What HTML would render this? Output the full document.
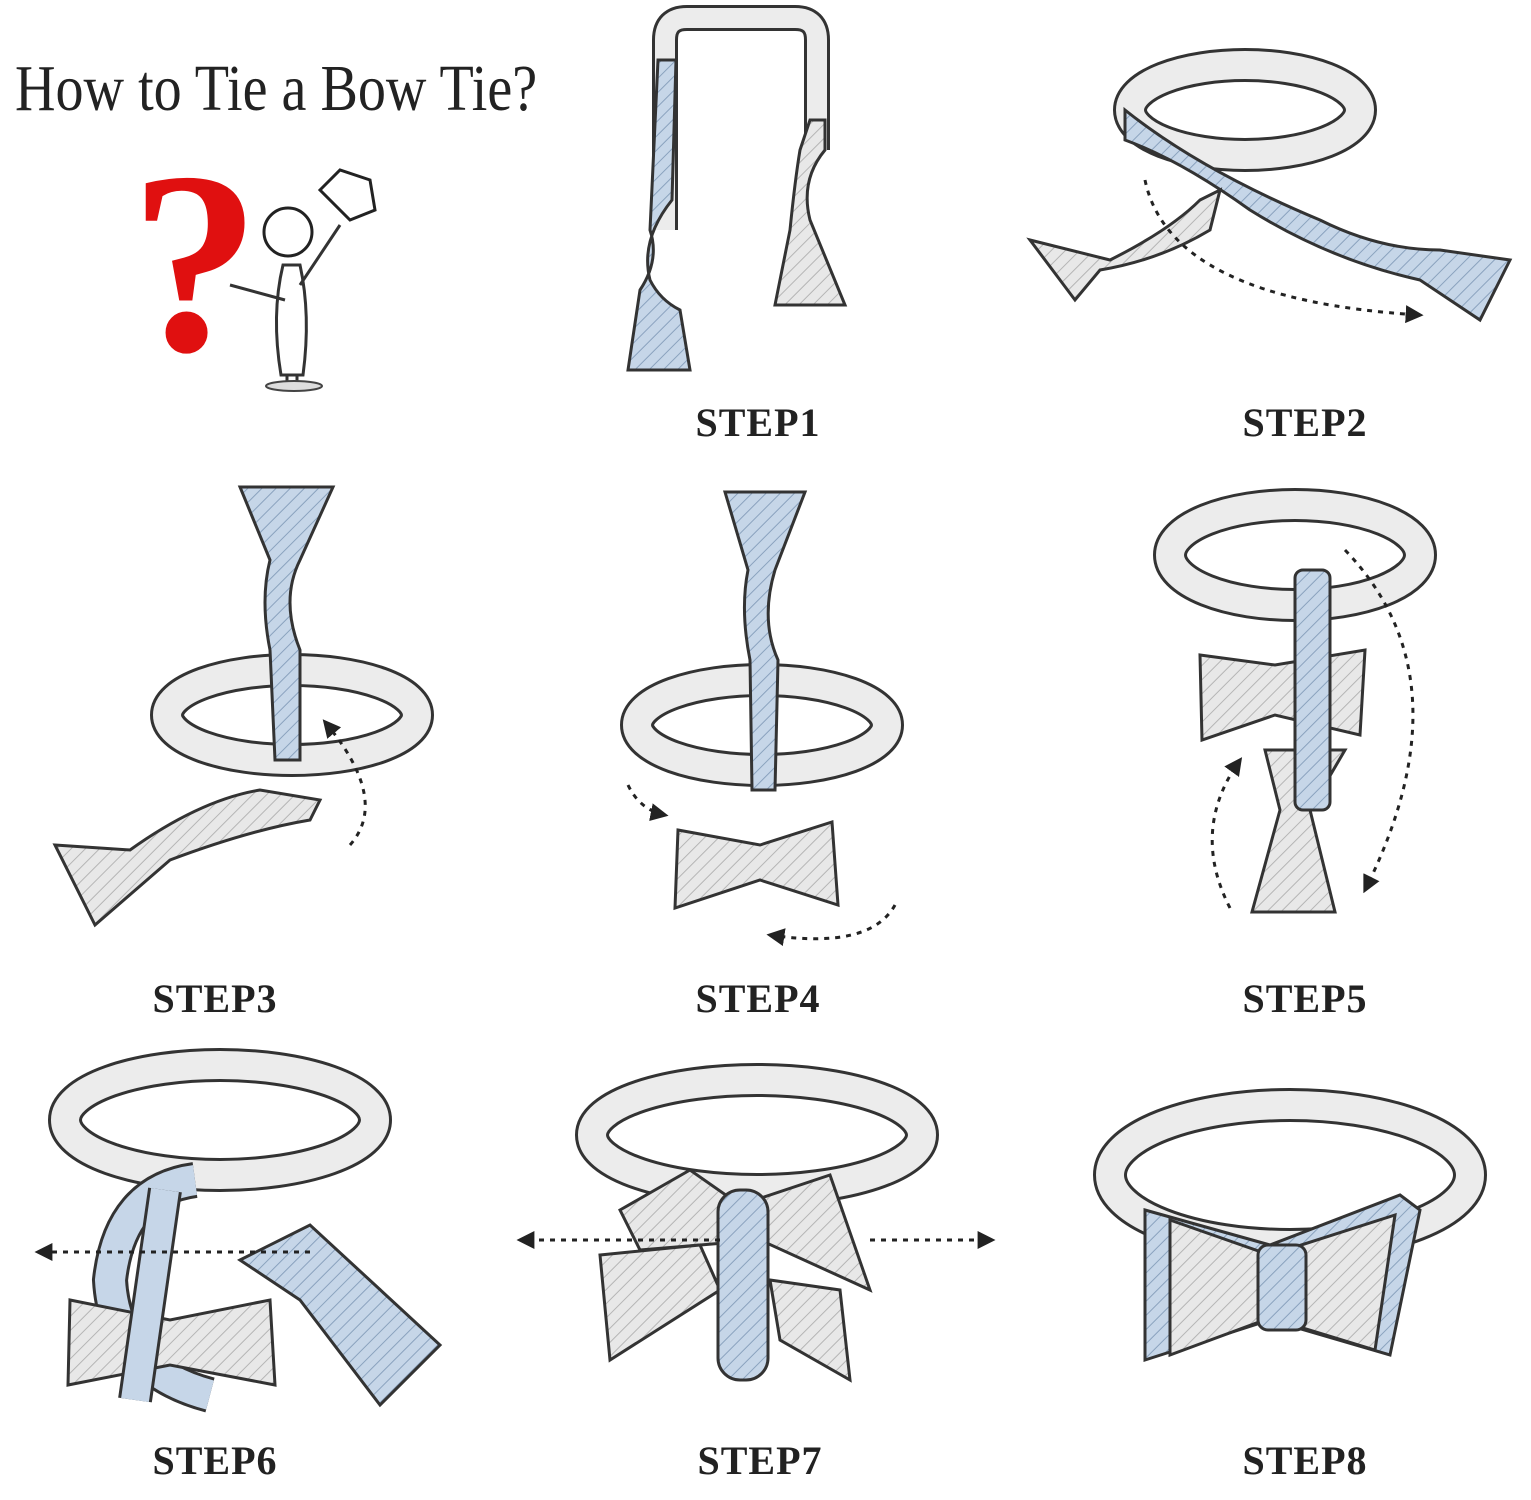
<!DOCTYPE html>
<html><head><meta charset="utf-8"><style>
html,body{margin:0;padding:0;background:#fff;width:1531px;height:1500px;overflow:hidden}
svg{display:block}
.lbl{font-family:"Liberation Serif",serif;font-weight:bold;font-size:40px;letter-spacing:1px;fill:#222;text-anchor:middle}
.s{fill:none;stroke:#333;stroke-width:3}
.band{fill:none;stroke:#333;stroke-width:34}
.bandi{fill:none;stroke:#ececec;stroke-width:28}
.bandb{fill:none;stroke:#c6d6e8;stroke-width:28}
.d{fill:none;stroke:#222;stroke-width:3;stroke-dasharray:5 6}
</style></head><body>
<svg width="1531" height="1500" viewBox="0 0 1531 1500">
<defs>
<pattern id="hb" width="10" height="10" patternUnits="userSpaceOnUse" patternTransform="rotate(45)"><rect width="10" height="10" fill="#c6d6e8"/><line x1="0" y1="0" x2="0" y2="10" stroke="#8aa2be" stroke-width="2"/></pattern>
<pattern id="hg" width="10" height="10" patternUnits="userSpaceOnUse" patternTransform="rotate(45)"><rect width="10" height="10" fill="#e8e8e8"/><line x1="0" y1="0" x2="0" y2="10" stroke="#b5b5b5" stroke-width="2"/></pattern>
<marker id="ar" viewBox="0 0 10 10" refX="8" refY="5" markerWidth="6" markerHeight="6" orient="auto"><path d="M0,0L10,5L0,10z" fill="#222"/></marker>
</defs>
<text x="15" y="110" font-family="Liberation Serif,serif" font-size="66" fill="#222" transform="translate(15 0) scale(0.85 1) translate(-15 0)">How to Tie a Bow Tie?</text>
<!-- question mark + man -->
<text x="130" y="350" font-family="Liberation Serif,serif" font-weight="bold" font-size="260" fill="#e01010">?</text>
<circle cx="288" cy="232" r="24" fill="#fff" stroke="#222" stroke-width="3"/>
<path class="s" d="M230 285 l55 15 M300 285 l40 -60"/>
<path class="s" d="M283 265 q-12 50 -2 110 h22 q8 -60 -3 -110 z"/>
<path class="s" d="M287 375 v10 M297 375 v10"/>
<ellipse cx="294" cy="386" rx="28" ry="5" fill="#ddd" stroke="#444" stroke-width="2"/>
<path d="M320 190 l20 -20 l30 10 l5 30 l-25 10 z" fill="#fff" stroke="#222" stroke-width="3"/>

<!-- STEP1 -->
<path d="M665 230 V40 q0 -22 22 -22 h108 q22 0 22 22 V150" fill="none" stroke="#333" stroke-width="26"/>
<path d="M665 230 V40 q0 -22 22 -22 h108 q22 0 22 22 V150" fill="none" stroke="#ececec" stroke-width="20"/>
<path d="M658 60 L676 60 L672 200 Q640 240 650 280 Q660 300 680 310 L690 370 L628 370 L640 290 Q660 260 650 230 z" fill="url(#hb)" stroke="#333" stroke-width="3"/>
<path d="M810 120 L825 120 L825 150 Q800 180 810 220 L845 305 L775 305 L790 230 Q795 180 800 150 z" fill="url(#hg)" stroke="#333" stroke-width="3"/>
<text class="lbl" x="758" y="436">STEP1</text>

<!-- STEP2 -->
<ellipse cx="1245" cy="110" rx="115" ry="45" class="band"/>
<ellipse cx="1245" cy="110" rx="115" ry="45" class="bandi"/>
<path d="M1125 110 Q1200 170 1320 220 Q1380 250 1440 250 L1510 260 L1480 320 L1420 280 Q1330 260 1250 210 Q1180 160 1125 140 z" fill="url(#hb)" stroke="#333" stroke-width="3"/>
<path d="M1030 240 L1110 260 Q1170 230 1200 200 L1220 190 L1210 230 Q1160 260 1100 270 L1075 300 z" fill="url(#hg)" stroke="#333" stroke-width="3"/>
<path class="d" marker-end="url(#ar)" d="M1145 180 Q1170 300 1420 315"/>
<text class="lbl" x="1305" y="436">STEP2</text>

<!-- STEP3 -->
<ellipse cx="292" cy="715" rx="125" ry="45" class="band"/>
<ellipse cx="292" cy="715" rx="125" ry="45" class="bandi"/>
<path d="M240 487 L333 487 L300 560 Q280 600 300 650 L300 760 L275 760 L270 650 Q260 600 270 560 z" fill="url(#hb)" stroke="#333" stroke-width="3"/>
<path d="M55 845 L130 850 Q200 800 260 790 L320 800 L310 820 Q250 830 170 860 L95 925 z" fill="url(#hg)" stroke="#333" stroke-width="3"/>
<path class="d" marker-end="url(#ar)" d="M350 845 Q390 800 325 722"/>
<text class="lbl" x="215" y="1012">STEP3</text>

<!-- STEP4 -->
<ellipse cx="762" cy="725" rx="125" ry="45" class="band"/>
<ellipse cx="762" cy="725" rx="125" ry="45" class="bandi"/>
<path d="M725 492 L805 492 L775 570 Q760 620 778 660 L775 790 L752 790 L750 660 Q740 610 748 570 z" fill="url(#hb)" stroke="#333" stroke-width="3"/>
<path d="M678 830 L760 845 L832 822 L838 905 L760 880 L675 908 z" fill="url(#hg)" stroke="#333" stroke-width="3"/>
<path class="d" marker-end="url(#ar)" d="M628 785 Q640 810 665 815"/>
<path class="d" marker-end="url(#ar)" d="M895 905 Q870 950 770 935"/>
<text class="lbl" x="758" y="1012">STEP4</text>

<!-- STEP5 -->
<ellipse cx="1295" cy="555" rx="125" ry="50" class="band"/>
<ellipse cx="1295" cy="555" rx="125" ry="50" class="bandi"/>
<path d="M1200 655 L1275 665 L1365 650 L1360 735 L1275 715 L1202 740 z" fill="url(#hg)" stroke="#333" stroke-width="3"/>
<path d="M1265 750 L1345 750 L1310 810 L1335 912 L1252 912 L1280 810 z" fill="url(#hg)" stroke="#333" stroke-width="3"/>
<rect x="1295" y="570" width="35" height="240" rx="8" fill="url(#hb)" stroke="#333" stroke-width="3"/>
<path class="d" marker-end="url(#ar)" d="M1345 550 Q1470 680 1365 890"/>
<path class="d" marker-end="url(#ar)" d="M1230 908 Q1190 830 1240 760"/>
<text class="lbl" x="1305" y="1012">STEP5</text>

<!-- STEP6 -->
<ellipse cx="220" cy="1120" rx="155" ry="55" class="band"/>
<ellipse cx="220" cy="1120" rx="155" ry="55" class="bandi"/>
<path d="M240 1260 L310 1225 L440 1345 L380 1405 L300 1300 z" fill="url(#hb)" stroke="#333" stroke-width="3"/>
<path d="M195 1180 Q120 1190 110 1280 Q115 1370 210 1395" fill="none" stroke="#333" stroke-width="36"/>
<path d="M195 1180 Q120 1190 110 1280 Q115 1370 210 1395" fill="none" stroke="#c6d6e8" stroke-width="30"/>
<path d="M70 1300 L170 1320 L270 1300 L275 1385 L170 1365 L68 1385 z" fill="url(#hg)" stroke="#333" stroke-width="3"/>
<path d="M165 1190 L135 1400" fill="none" stroke="#333" stroke-width="34"/>
<path d="M165 1190 L135 1400" fill="none" stroke="#c6d6e8" stroke-width="28"/>
<path class="d" marker-end="url(#ar)" d="M310 1252 H38"/>
<text class="lbl" x="215" y="1474">STEP6</text>

<!-- STEP7 -->
<ellipse cx="757" cy="1135" rx="165" ry="55" class="band"/>
<ellipse cx="757" cy="1135" rx="165" ry="55" class="bandi"/>
<path d="M620 1210 L690 1170 L740 1205 L830 1175 L870 1290 L760 1240 L640 1250 z" fill="url(#hg)" stroke="#333" stroke-width="3"/>
<path d="M600 1255 L700 1245 L720 1290 L610 1360 z" fill="url(#hg)" stroke="#333" stroke-width="3"/>
<path d="M770 1280 L840 1290 L850 1380 L780 1340 z" fill="url(#hg)" stroke="#333" stroke-width="3"/>
<rect x="718" y="1190" width="50" height="190" rx="22" fill="url(#hb)" stroke="#333" stroke-width="3"/>
<path class="d" marker-end="url(#ar)" d="M720 1240 H520"/>
<path class="d" marker-end="url(#ar)" d="M870 1240 H992"/>
<text class="lbl" x="760" y="1474">STEP7</text>

<!-- STEP8 -->
<ellipse cx="1290" cy="1175" rx="180" ry="70" class="band"/>
<ellipse cx="1290" cy="1175" rx="180" ry="70" class="bandi"/>
<path d="M1145 1210 L1270 1245 L1400 1195 L1420 1210 L1390 1355 L1270 1320 L1145 1360 z" fill="url(#hb)" stroke="#333" stroke-width="3"/>
<path d="M1170 1220 L1270 1255 L1395 1215 L1375 1350 L1270 1318 L1170 1355 z" fill="url(#hg)" stroke="#333" stroke-width="3"/>
<rect x="1258" y="1245" width="48" height="85" rx="10" fill="url(#hb)" stroke="#333" stroke-width="3"/>
<text class="lbl" x="1305" y="1474">STEP8</text>
</svg>
</body></html>
